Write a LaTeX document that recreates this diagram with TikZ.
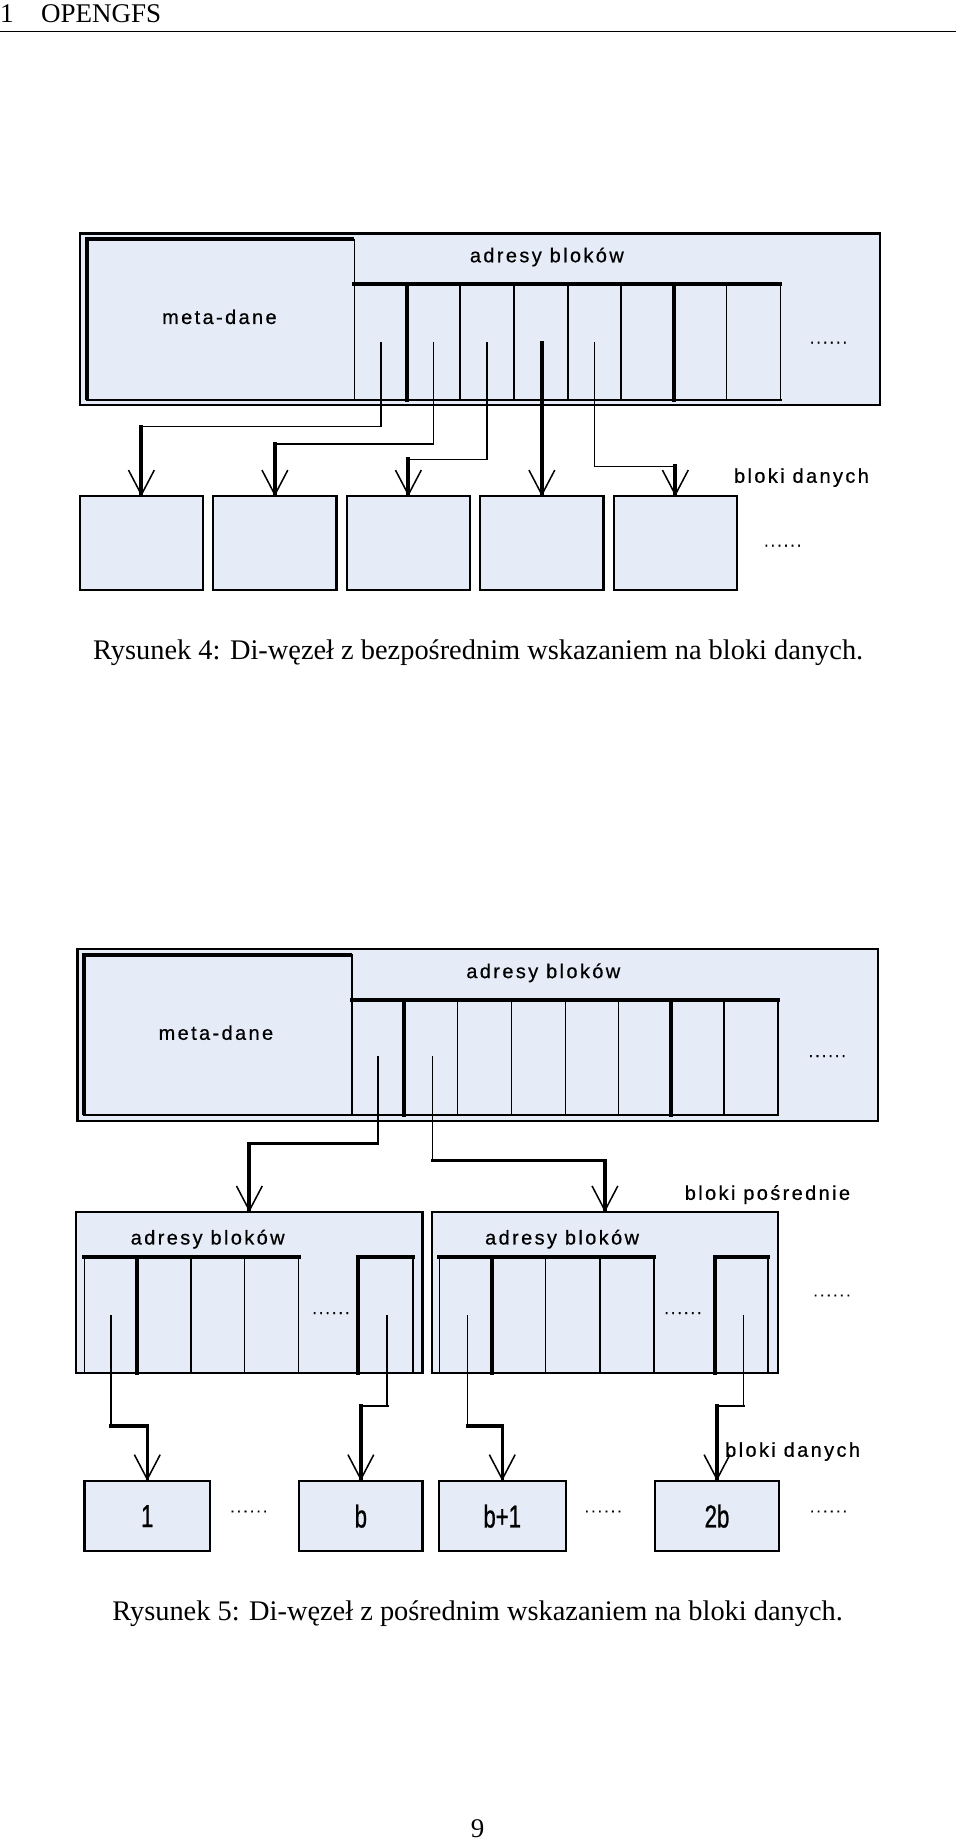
\documentclass[tikz,border=0pt]{standalone}
\usepackage{fontspec}
\setmainfont{Liberation Serif}
\newfontfamily\pixfont[LetterSpace=12,FakeBold=0.6]{Liberation Sans}
\newfontfamily\pixnarrow[FakeStretch=0.7,FakeBold=0.8]{Liberation Sans}
\usetikzlibrary{arrows.meta}
\definecolor{blockfill}{RGB}{229,235,247}

\begin{document}
\begin{tikzpicture}[x=1pt,y=-1pt,line join=miter,
  every node/.style={inner sep=0pt,outer sep=0pt},
  pagetxt/.style={font=\fontsize{23}{28}\selectfont},
  captxt/.style={font=\fontsize{24.2}{29}\selectfont},
  lbl/.style={font=\pixfont\fontsize{17}{20}\selectfont},
  dotlbl/.style={font=\pixfont\fontsize{14}{16}\selectfont},
  numlbl/.style={font=\pixnarrow\fontsize{27}{30}\selectfont},
  outerbox/.style={draw,line width=1.8pt,fill=blockfill},
  blk/.style={draw,line width=1.8pt,fill=blockfill,minimum width=105pt,minimum height=80pt},
  thinln/.style={line width=1.4pt,line cap=rect},
  midln/.style={line width=2.2pt,line cap=rect},
  thickln/.style={line width=3.4pt,line cap=rect},
  vtip/.style={-{Straight Barb[length=21pt,width=22pt,line width=1.3pt]}}]
  \useasboundingbox (0,0) rectangle (818,1568);
  % running head
  \node[pagetxt,anchor=base west] (secnum) at (0,19) {1};
  \node[pagetxt,anchor=base west] (sectitle) at (35,19) {OPENGFS};
  \draw[line width=1.2pt] (0,27) -- (815,27);

  % ---- Rysunek 4 ----
  \draw[outerbox] (68,199) rectangle (750,345);
  \draw[thinln] (302,204) -- (302,341);
  \draw[thickln,line cap=butt] (74,341) -- (74,204) -- (302,204);
  \draw[midln] (74,341) -- (665,341);
  \draw[thickln] (302,242) -- (665,242);
  \foreach \x in {392,438,484,529,619,665}{\draw[thinln] (\x,242) -- (\x,341);}
  \foreach \x in {347,574}{\draw[thickln] (\x,242) -- (\x,341);}
  \node[lbl] (meta4) at (187,270) {meta-dane};
  \node[lbl] (adr4) at (466,219) {adresy bloków};
  \node[dotlbl] (more4a) at (706,292) {......};
  \foreach \i in {1,...,5}{\node[blk] (d4\i) at ({120.5+113.75*(\i-1)},463) {};}
  \node[lbl] (dane4) at (683,407) {bloki danych};
  \node[dotlbl] (more4b) at (667,465) {......};
  \foreach \i/\px/\ky in {1/324.5/363.5,2/369.5/378.5,3/415/391.5,5/506.5/397.5}{
    \coordinate (p4\i) at (\px,292);
    \coordinate (k4\i) at (\px,\ky);
    \draw[thinln] (p4\i) -- (k4\i) -- (k4\i -| d4\i.north);
    \draw[thickln,vtip] (k4\i -| d4\i.north) -- (d4\i.north);
  }
  \coordinate (p44) at (461.75,292);
  \draw[thickln,vtip] (p44) -- (d44.north);
  \node[captxt,anchor=base] (cap4) at (407.5,562)
    {Rysunek 4: Di-węzeł z bezpośrednim wskazaniem na bloki danych.};

  % ---- Rysunek 5 ----
  \draw[outerbox] (66,809) rectangle (748,955);
  \draw[thinln] (300,814) -- (300,950);
  \draw[thickln,line cap=butt] (72,950) -- (72,814) -- (300,814);
  \draw[midln] (72,950) -- (663,950);
  \draw[thickln] (300,852) -- (663,852);
  \foreach \x in {390,436,482,527,617,663}{\draw[thinln] (\x,852) -- (\x,950);}
  \foreach \x in {344,572}{\draw[thickln] (\x,852) -- (\x,950);}
  \node[lbl] (meta5) at (184,880) {meta-dane};
  \node[lbl] (adr5) at (463,829) {adresy bloków};
  \node[dotlbl] (more5a) at (705,900) {......};
  % bloki posrednie
  \node[blk,minimum width=295pt,minimum height=137pt] (i1) at (212.5,1101.5) {};
  \node[blk,minimum width=295pt,minimum height=137pt] (i2) at (515.5,1101.5) {};
  \node[lbl] (posr) at (654,1018) {bloki pośrednie};
  \node[lbl] (adr5a) at (177,1056) {adresy bloków};
  \node[lbl] (adr5b) at (479,1056) {adresy bloków};
  \draw[thickln] (72,1071) -- (254.5,1071) (305,1071) -- (352,1071);
  \draw[thickln] (374.5,1071) -- (557.5,1071) (609,1071) -- (654.5,1071);
  \foreach \x in {72,162.5,208.5,254.5,352,374.5,465,511.5,557.5,654.5}{
    \draw[thinln] (\x,1071) -- (\x,1170);}
  \foreach \x in {117,305,419.5,609}{\draw[thickln] (\x,1071) -- (\x,1170);}
  \node[dotlbl] (more5b) at (282,1119) {......};
  \node[dotlbl] (more5c) at (582,1119) {......};
  \node[dotlbl] (more5d) at (709,1104) {......};
  \foreach \i/\px/\ky in {1/322/974.5,2/368.5/989}{
    \coordinate (q5\i) at (\px,901);
    \coordinate (m5\i) at (\px,\ky);
    \draw[thinln] (q5\i) -- (m5\i);
    \draw[midln] (m5\i) -- (m5\i -| i\i.north);
    \draw[thickln,vtip] (m5\i -| i\i.north) -- (i\i.north);
  }
  % bloki danych
  \node[blk,minimum width=107pt,minimum height=60pt,numlbl] (e1) at (125.5,1292) {1};
  \node[blk,minimum width=105pt,minimum height=60pt,numlbl] (e2) at (307.5,1292) {b};
  \node[blk,minimum width=108pt,minimum height=60pt,numlbl] (e3) at (428,1292) {b+1};
  \node[blk,minimum width=106pt,minimum height=60pt,numlbl] (e4) at (611,1292) {2b};
  \node[dotlbl] (more5e) at (212,1288) {......};
  \node[dotlbl] (more5f) at (514,1288) {......};
  \node[dotlbl] (more5g) at (706,1288) {......};
  \node[lbl,anchor=west] (dane5) at (618,1237) {bloki danych};
  \foreach \i/\px/\ky/\hs/\vs in {1/94.5/1215/thickln/midln,2/330/1198/midln/thickln,
      3/398.5/1215/thickln/midln,4/633.5/1198/midln/thickln}{
    \coordinate (r5\i) at (\px,1121);
    \coordinate (n5\i) at (\px,\ky);
    \draw[thinln] (r5\i) -- (n5\i);
    \draw[\hs] (n5\i) -- (n5\i -| e\i.north);
    \draw[\vs,vtip] (n5\i -| e\i.north) -- (e\i.north);
  }
  \node[captxt,anchor=base] (cap5) at (407,1381)
    {Rysunek 5: Di-węzeł z pośrednim wskazaniem na bloki danych.};
  \node[pagetxt,anchor=base] (pgnum) at (407,1566) {9};
\end{tikzpicture}
\end{document}
